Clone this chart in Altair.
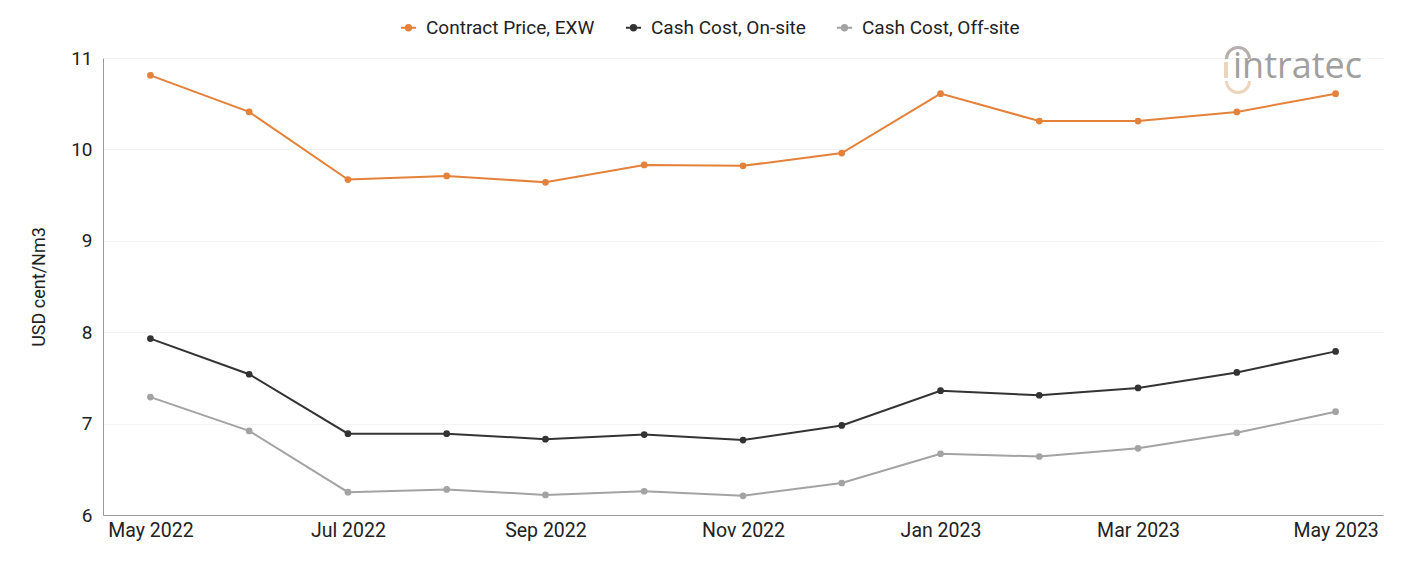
import altair as alt
import pandas as pd

months = ["May 2022", "Jun 2022", "Jul 2022", "Aug 2022", "Sep 2022", "Oct 2022",
          "Nov 2022", "Dec 2022", "Jan 2023", "Feb 2023", "Mar 2023", "Apr 2023", "May 2023"]
contract_price = [10.81, 10.41, 9.67, 9.71, 9.64, 9.83, 9.82, 9.96, 10.61, 10.31, 10.31, 10.41, 10.61]
cash_onsite = [7.93, 7.54, 6.89, 6.89, 6.83, 6.88, 6.82, 6.98, 7.36, 7.31, 7.39, 7.56, 7.79]
cash_offsite = [7.29, 6.92, 6.25, 6.28, 6.22, 6.26, 6.21, 6.35, 6.67, 6.64, 6.73, 6.90, 7.13]

series_names = ["Contract Price, EXW", "Cash Cost, On-site", "Cash Cost, Off-site"]
series_colors = ["#E4813A", "#333333", "#A3A3A3"]
tick_months = months[::2]

rows = []
for name, vals in zip(series_names, [contract_price, cash_onsite, cash_offsite]):
    for m, v in zip(months, vals):
        rows.append({"month": m, "value": v, "series": name})
df = pd.DataFrame(rows)

FONT = "Roboto"
TEXT = "#222222"

x = alt.X("month:O", sort=months, scale=alt.Scale(type="point", padding=0.48),
          axis=alt.Axis(title=None, values=tick_months, labelAngle=0, ticks=False,
                        labelFontSize=19.5, labelColor=TEXT, labelPadding=6,
                        domainColor="#999999", labelFont=FONT, grid=False))
y = alt.Y("value:Q", scale=alt.Scale(domain=[6, 11], nice=False, zero=False),
          axis=alt.Axis(title="USD cent/Nm3", values=[6, 7, 8, 9, 10, 11], ticks=False,
                        labelFontSize=19, labelColor=TEXT, labelPadding=11,
                        titleFontSize=18, titleFontWeight="normal", titleColor=TEXT,
                        titlePadding=22, domainColor="#999999", gridColor="#F3F3F3",
                        labelFont=FONT, titleFont=FONT))
color_scale = alt.Scale(domain=series_names, range=series_colors)
color = alt.Color("series:N", sort=series_names, scale=color_scale,
                  legend=alt.Legend(title=None, orient="none", direction="horizontal",
                                    legendX=296, legendY=-40, labelFontSize=19,
                                    labelFont=FONT, labelColor=TEXT, labelLimit=400,
                                    symbolType="M-1,0L1,0M0.35,0A0.35,0.35 0 1,1 -0.35,0A0.35,0.35 0 1,1 0.35,0",
                                    symbolSize=230, symbolStrokeWidth=2,
                                    columnPadding=26, labelOffset=8))

lines = alt.Chart(df).mark_line(strokeWidth=2).encode(x=x, y=y, color=color)
points = alt.Chart(df).mark_circle(size=45, opacity=1).encode(
    x=x, y=y, color=alt.Color("series:N", sort=series_names, scale=color_scale, legend=None))

# brand mark in the top-right corner
one = pd.DataFrame({"t": ["intratec"]})
logo_text = alt.Chart(one).mark_text(
    font="Open Sans", fontSize=36, fontWeight=500, color="#A0A0A0", align="left", baseline="alphabetic"
).encode(text="t:N", x=alt.value(1130), y=alt.value(20))
logo_stem = alt.Chart(one).mark_rule(strokeWidth=4, color="#EDD5BD").encode(
    x=alt.value(1123), y=alt.value(4), y2=alt.value(20))
logo_top = alt.Chart(one).mark_arc(
    radius=13, radius2=10, theta=4.71, theta2=7.85, color="#B5B0AC"
).encode(x=alt.value(1135), y=alt.value(1))
logo_bottom = alt.Chart(one).mark_arc(
    radius=13, radius2=10, theta=1.57, theta2=4.71, color="#EDD5BD"
).encode(x=alt.value(1135), y=alt.value(23))

chart = alt.layer(lines, points, logo_stem, logo_top, logo_bottom, logo_text).properties(
    width=1280, height=457,
    background="white",
    autosize=alt.AutoSizeParams(type="none"),
    padding={"left": 103, "top": 58, "right": 18, "bottom": 46},
).configure_view(strokeWidth=0, stroke="transparent")

chart.save("out.html", embed_options={"renderer": "svg", "actions": False})
